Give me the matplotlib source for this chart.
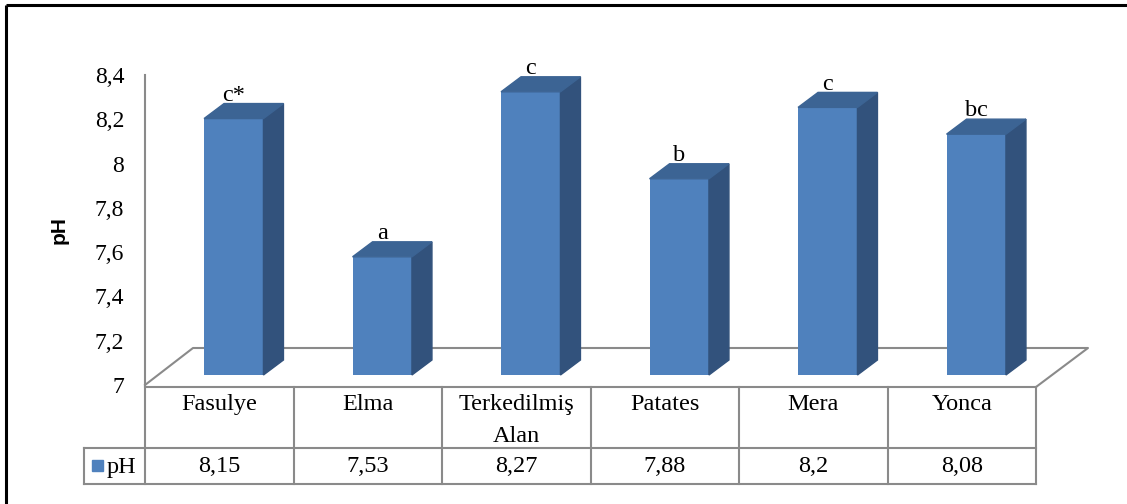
import matplotlib
matplotlib.use("Agg")
import matplotlib.pyplot as plt
from matplotlib.patches import Polygon, Rectangle

# ---- data ----
categories = ["Fasulye", "Elma", "Terkedilmiş\nAlan", "Patates", "Mera", "Yonca"]
ph_values = [8.15, 7.53, 8.27, 7.88, 8.20, 8.08]
value_labels = ["8,15", "7,53", "8,27", "7,88", "8,2", "8,08"]
letters = ["c*", "a", "c", "b", "c", "bc"]
y_ticks = [7.0, 7.2, 7.4, 7.6, 7.8, 8.0, 8.2, 8.4]
series_name = "pH"

# ---- styling ----
W, H = 1127, 504
SERIF = ["Liberation Serif", "DejaVu Serif"]
FRONT = "#4F81BD"
TOP = "#3C6494"
SIDE = "#32527C"
GRID = "#8A8A8A"
FS = 17.5
FS_TICK = 17

fig = plt.figure(figsize=(W / 100, H / 100), dpi=100)

def fig_rect(x0, y_top, x1, y_bot):
    """figure-fraction rect from pixel box (y measured from top)"""
    return [x0 / W, 1 - y_bot / H, (x1 - x0) / W, (y_bot - y_top) / H]

# overlay in pixel coordinates for frame, floor and the data table
ov = fig.add_axes([0, 0, 1, 1])
ov.set_xlim(0, W)
ov.set_ylim(H, 0)
ov.axis("off")

# outer frame
ov.plot([6, W], [5, 5], color="black", lw=2.2, solid_capstyle="butt")
ov.plot([6, 6], [5, H], color="black", lw=2.2, solid_capstyle="butt")

# layout of plot / table
tab_left, tab_right = 145, 1036
tab_top, tab_mid, tab_bot = 387, 448, 484
leg_left = 84
n = len(categories)
col_w = (tab_right - tab_left) / n
depth_x, depth_y = 48, 38  # floor depth in pixels

# floor
ov.plot([tab_left, tab_left + depth_x, tab_right + depth_x + 4, tab_right],
        [tab_top - 2, tab_top - 2 - depth_y + 1, tab_top - 2 - depth_y + 1, tab_top],
        color=GRID, lw=1.5)

# table grid
ov.plot([tab_left, tab_right], [tab_top, tab_top], color=GRID, lw=1.5)
ov.plot([leg_left, tab_right], [tab_mid, tab_mid], color=GRID, lw=1.5)
ov.plot([leg_left, tab_right], [tab_bot, tab_bot], color=GRID, lw=1.5)
ov.plot([leg_left, leg_left], [tab_mid, tab_bot], color=GRID, lw=1.5)
for i in range(n + 1):
    x = tab_left + i * col_w
    ov.plot([x, x], [tab_top, tab_bot], color=GRID, lw=1.5)

# table contents
for i in range(n):
    cx = tab_left + (i + 0.5) * col_w
    ov.text(cx, 394, categories[i], ha="center", va="top", fontsize=FS,
            family=SERIF, linespacing=1.7)
    ov.text(cx, (tab_mid + tab_bot) / 2 + 1, value_labels[i], ha="center",
            va="center", fontsize=FS, family=SERIF)

# legend key in the table
ov.add_patch(Rectangle((92, 460), 11, 11, color=FRONT))
ov.text(107, (tab_mid + tab_bot) / 2 + 1, series_name, ha="left", va="center",
        fontsize=FS, family=SERIF)

# value axis (tick labels + axis line)
ay = fig.add_axes(fig_rect(tab_left, 75, tab_left + 10, 385))
ay.set_ylim(y_ticks[0], y_ticks[-1])
ay.set_yticks(y_ticks)
ay.set_yticklabels([f"{v:g}".replace(".", ",") for v in y_ticks],
                   fontsize=FS_TICK, family=SERIF)
ay.tick_params(axis="y", length=0, pad=15)
ay.set_xticks([])
for s in ("top", "right", "bottom"):
    ay.spines[s].set_visible(False)
ay.spines["left"].set_color(GRID)
ay.spines["left"].set_linewidth(1.5)
ay.patch.set_alpha(0)
ay.set_ylabel("pH", fontsize=15, fontweight="bold", family="Liberation Sans",
              labelpad=19)

# bars
px_per_unit = 223.0
bar_base_px = 375
shift = 14.5
axb = fig.add_axes(fig_rect(tab_left + shift, bar_base_px - 1.4 * px_per_unit,
                            tab_right + shift, bar_base_px))
axb.set_xlim(-0.5, n - 0.5)
axb.set_ylim(y_ticks[0], y_ticks[-1])
axb.axis("off")

bw = 0.40
dx = 20 / col_w          # bar depth in x data units
dy = 15 / px_per_unit    # bar depth in y data units
base = y_ticks[0]
for i, v in enumerate(ph_values):
    xl, xr = i - bw / 2, i + bw / 2
    axb.bar(i, v - base, bottom=base, width=bw, color=FRONT, zorder=3,
            clip_on=False)
    axb.add_patch(Polygon([(xr, base), (xr, v), (xr + dx, v + dy),
                           (xr + dx, base + dy)], closed=True, color=SIDE,
                          zorder=3, clip_on=False))
    axb.add_patch(Polygon([(xl, v), (xr, v), (xr + dx, v + dy),
                           (xl + dx, v + dy)], closed=True, color=TOP,
                          zorder=3, clip_on=False))
    axb.annotate(letters[i], (i, v + dy), xytext=(0, 2),
                 textcoords="offset points", ha="center", va="baseline",
                 fontsize=FS, family=SERIF, annotation_clip=False)

fig.savefig("out.png", dpi=100)
